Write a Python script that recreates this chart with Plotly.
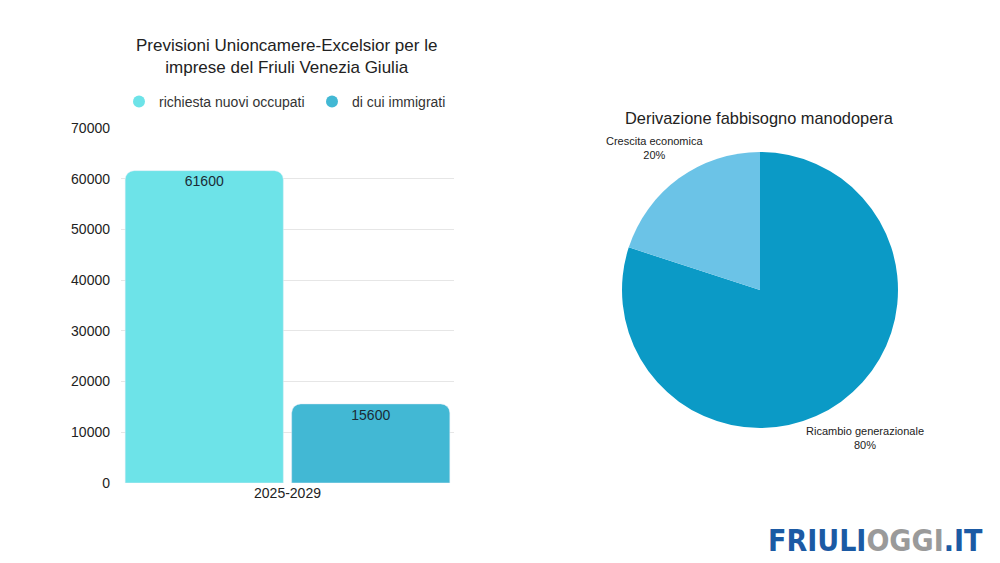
import math
import plotly.graph_objects as go

categories = ["2025-2029"]
series_names = ["richiesta nuovi occupati", "di cui immigrati"]
series_values = [[61600], [15600]]
bar_colors = ["#6de3e8", "#42b8d4"]

pie_labels = ["Ricambio generazionale", "Crescita economica"]
pie_values = [80, 20]
pie_colors = ["#0b9ac6", "#6bc3e7"]

yticks = [0, 10000, 20000, 30000, 40000, 50000, 60000, 70000]

FONT = "Liberation Sans, Arial, sans-serif"

fig = go.Figure()

for i, (name, vals, col) in enumerate(zip(series_names, series_values, bar_colors)):
    fig.add_trace(go.Bar(
        x=categories, y=vals, name=name, marker_color=col,
        offsetgroup=str(i), showlegend=False, xaxis="x", yaxis="y",
        hoverinfo="y",
    ))
    fig.add_trace(go.Scatter(
        x=categories, y=vals, mode="markers+text", offsetgroup=str(i),
        marker=dict(size=7, color="rgba(0,0,0,0)"),
        text=[str(v) for v in vals], textposition="bottom center",
        textfont=dict(size=14, color="#1b2b36", family=FONT),
        showlegend=False, hoverinfo="skip", xaxis="x", yaxis="y",
    ))
    fig.add_trace(go.Scatter(
        x=[None], y=[None], mode="markers", name=name,
        marker=dict(symbol="circle", size=14, color=col),
        showlegend=True, xaxis="x", yaxis="y",
    ))

# pie domain
pdx = [0.622, 0.898]
pdy = [0.2398, 0.730]
fig.add_trace(go.Pie(
    labels=pie_labels, values=pie_values,
    marker=dict(colors=pie_colors, line=dict(width=0)),
    sort=False, direction="clockwise", rotation=0,
    textposition="none", showlegend=False, hole=0,
    domain=dict(x=pdx, y=pdy),
))

# pie labels placed along each slice's mid-angle
W, H = 1000, 563
cx = (pdx[0] + pdx[1]) / 2 * W
cy = (1 - (pdy[0] + pdy[1]) / 2) * H
r = min((pdx[1] - pdx[0]) * W, (pdy[1] - pdy[0]) * H) / 2
total = sum(pie_values)
annotations = []
start = 0.0
for lab, v in zip(pie_labels, pie_values):
    mid = (start + v / 2) / total * 2 * math.pi
    start += v
    px = cx + 1.30 * r * math.sin(mid)
    py = cy - 1.30 * r * math.cos(mid) + 3
    annotations.append(dict(
        text=f"{lab}<br>{round(v / total * 100)}%", x=px / W, y=1 - py / H,
        xref="paper", yref="paper", xanchor="center", yanchor="middle",
        showarrow=False, font=dict(size=11, color="#222222", family=FONT)))

annotations += [
    dict(text="Previsioni Unioncamere-Excelsior per le<br>imprese del Friuli Venezia Giulia",
         x=0.286, y=1 - 57/563, xref="paper", yref="paper",
         xanchor="center", yanchor="middle", showarrow=False,
         font=dict(size=17, color="#222222", family=FONT)),
    dict(text="Derivazione fabbisogno manodopera",
         x=0.759, y=1 - 118/563, xref="paper", yref="paper",
         xanchor="center", yanchor="middle", showarrow=False,
         font=dict(size=16.4, color="#222222", family=FONT)),
    dict(text="<b><span style='color:#1b5aa4'>FRIULI</span><span style='color:#9a9a9a'>OGGI</span><span style='color:#1b5aa4'>.IT</span></b>",
         x=0.985, y=1 - 540/563, xref="paper", yref="paper",
         xanchor="right", yanchor="middle", showarrow=False,
         font=dict(size=30, family="Liberation Sans Narrow, DejaVu Sans Condensed, sans-serif")),
]

fig.update_layout(
    width=W, height=H, autosize=False,
    margin=dict(l=0, r=0, t=0, b=0, autoexpand=False),
    paper_bgcolor="white", plot_bgcolor="white",
    font=dict(family=FONT, size=14, color="#222222"),
    barmode="group", bargap=0.0, bargroupgap=0.05,
    scattermode="group", scattergap=0.0,
    barcornerradius=9,
    xaxis=dict(domain=[0.121, 0.454], showgrid=False, showline=False,
               ticks="", automargin=False,
               tickfont=dict(size=14, color="#222222")),
    yaxis=dict(domain=[0.1421, 0.7726], range=[0, 70000],
               tickvals=yticks, ticktext=[str(t) for t in yticks],
               showgrid=True, gridcolor="#e6e6e6", gridwidth=1,
               zeroline=False, showline=False, ticks="", automargin=False,
               ticklabelstandoff=10,
               tickfont=dict(size=14, color="#222222")),
    legend=dict(orientation="h", x=0.119, y=0.819, xanchor="left",
                yanchor="middle", font=dict(size=14, color="#333333"),
                itemsizing="constant", entrywidth=148,
                bgcolor="rgba(0,0,0,0)"),
    annotations=annotations,
)

fig.write_html("out.html", config={"displayModeBar": False},
               post_script="document.body.style.margin='0';document.body.style.padding='0';")
